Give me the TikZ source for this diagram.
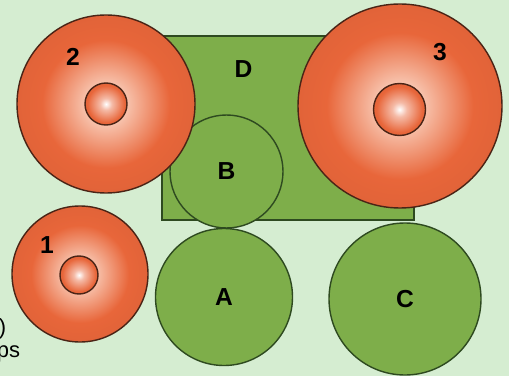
\documentclass[tikz,border=0pt]{standalone}
\usepackage{fontspec}
\setmainfont{Liberation Sans}
\usepackage{xcolor}
\definecolor{paper}{HTML}{D5EDD1}
\definecolor{leaf}{HTML}{7EAE4A}
\definecolor{leafline}{HTML}{2E4A20}
\definecolor{clay}{HTML}{E8663A}
\definecolor{clayline}{HTML}{4A2416}
\definecolor{glow}{HTML}{FFF1E6}
\pgfdeclareradialshading{orbglow}{\pgfpointorigin}{color(0bp)=(glow); color(7bp)=(clay!40!glow); color(18bp)=(clay); color(35bp)=(clay!93!black); color(50bp)=(clay!93!black)}
\pgfdeclareradialshading{coreglow}{\pgfpointorigin}{color(0bp)=(white); color(7bp)=(clay!45!white); color(22bp)=(clay); color(35bp)=(clay!90!black); color(50bp)=(clay!90!black)}

\begin{document}
\begin{tikzpicture}[
  x=0.2mm, y=-0.2mm,
  font=\fontsize{14}{16}\selectfont\bfseries,
  orb/.style={circle, draw=clayline, line width=0.8pt, inner sep=0pt, shading=orbglow},
  core/.style={circle, draw=clayline, line width=0.8pt, inner sep=0pt, shading=coreglow},
  disc/.style={circle, draw=leafline, line width=0.8pt, fill=leaf, inner sep=0pt},
  block/.style={draw=leafline, line width=0.8pt, fill=leaf, inner sep=0pt},
  tag/.style={inner sep=0pt, text=black}
]
\fill[paper] (0,0) rectangle (509,376);
\useasboundingbox (0,0) rectangle (509,376);

% green block and discs
\node[block, minimum width=50.4mm, minimum height=36.8mm] (rD) at (288,128) {};
\node[tag] (tD) at (243.5,69) {D};
\node[disc, minimum size=22.6mm] (dB) at (226.5,171.5) {B};
\node[disc, minimum size=27.4mm] (dA) at (224,297) {A};
\node[disc, minimum size=30.4mm] (dC) at (405,299) {C};

% orange orbs
\node[orb, minimum size=35.6mm] (o2) at (106,104) {};
\node[core, minimum size=8.4mm] (c2) at (106,104) {};
\node[tag] (t2) at (73,57) {2};

\node[orb, minimum size=40.8mm] (o3) at (400,106) {};
\node[core, minimum size=10.4mm] (c3) at (399.5,109.5) {};
\node[tag] (t3) at (440,52) {3};

\node[orb, minimum size=27.2mm] (o1) at (80,274) {};
\node[core, minimum size=7.6mm] (c1) at (79,275) {};
\node[tag] (t1) at (47,245) {1};

% cut-off caption at the left edge
\node[tag, font=\fontsize{12.5}{14}\selectfont, anchor=base east] (cap1) at (6.5,334) {)};
\node[tag, font=\fontsize{12.5}{14}\selectfont, anchor=base east] (cap2) at (20.5,357) {ps};

\end{tikzpicture}
\end{document}
